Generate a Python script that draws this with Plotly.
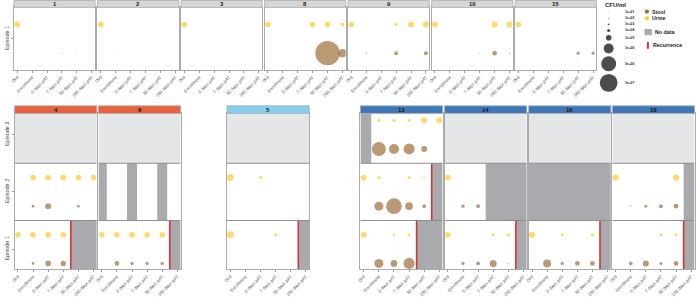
import plotly.graph_objects as go

W, H = 696, 297
FONT = "Liberation Sans, Arial, sans-serif"

# ---------------- data ----------------
TIMEPOINTS = ["Ord", "Enrollment", "0 days pAT", "7 days pAT", "30 days pAT", "180 days pAT"]
TOP_PATIENTS = ["1", "2", "3", "8", "9", "10", "15"]
BOTTOM_PATIENTS = ["4", "6", "5", "13", "14", "16", "18"]
STRIP_GROUP = {"4": "a", "6": "a", "5": "b", "13": "c", "14": "c", "16": "c", "18": "c"}

N = None
urine_cfu = {
    "1":  {1: [1e5, N, N, N, N, N]},
    "2":  {1: [1e5, N, N, N, N, N]},
    "3":  {1: [1e5, N, N, N, N, N]},
    "8":  {1: [1e5, N, N, 1e5, 1e5, 2e4]},
    "9":  {1: [1e5, N, N, 1e4, 1.3e5, 1.3e5]},
    "10": {1: [1e5, N, N, N, 1.3e5, 1.3e5]},
    "15": {1: [1e5, N, N, N, N, N]},
    "4":  {1: [1e5, 1e5, 1e5, 1e5, N, N], 2: [N, 1e5, 1e5, 1e5, 1e5, 1e5]},
    "6":  {1: [1e5, 1e5, 1e5, 1e5, 1e5, N]},
    "5":  {1: [2.4e5, N, N, 1e4, N, N], 2: [2.4e5, N, 1e4, N, N, N]},
    "13": {1: [1e5, N, 3e3, 1.2e4, N, N], 2: [1e5, 1.2e4, N, 1.2e4, 1.6e3, N],
           3: [N, 1.2e4, 1.2e4, 1.2e4, 1.3e5, 1.3e5]},
    "14": {1: [1e5, N, N, 1.2e4, 1.2e4, N], 2: [1e5, N, N, N, N, N]},
    "16": {1: [1.3e5, N, 1.2e4, N, 1.2e4, N]},
    "18": {1: [N, N, 10, 1.2e4, 1.2e4, N], 2: [1.5e5, N, N, N, 1.5e5, N]},
}
stool_cfu = {
    "1":  {1: [N, N, N, 100, 100, N]},
    "2":  {1: [N, 10, N, N, N, N]},
    "8":  {1: [N, N, N, N, 3.5e7, 5e5]},
    "9":  {1: [N, 200, N, 2.5e4, N, 2.5e4]},
    "10": {1: [N, N, N, 100, 5e4, 200]},
    "15": {1: [N, N, N, N, 1e4, 1e4]},
    "4":  {1: [N, 5e3, 1e5, 8e4, N, N], 2: [N, 5e3, 1.3e5, N, 5e3, N]},
    "6":  {1: [N, 5e4, 1.2e4, 1.2e4, 1.2e4, N]},
    "13": {1: [N, 6.5e5, 2e5, 1.5e6, N, N], 2: [N, 6.5e5, 6e6, 3.5e5, 1.9e4, N],
           3: [N, 3.8e6, 1e6, 1.5e6, 1.3e5, N]},
    "14": {1: [N, 1.2e4, 1.9e4, 2.4e5, 100, N], 2: [N, 1.2e4, 1.9e4, N, N, N]},
    "16": {1: [N, 4e5, 1.2e4, 5e4, 6e4, N]},
    "18": {1: [N, 1.9e4, 1.3e5, 8e3, 5e4, N], 2: [N, 300, 8e3, 2.5e4, 5e4, N]},
}
episodes_present = {"4": [1, 2], "6": [1, 2], "5": [1, 2], "13": [1, 2, 3],
                    "14": [1, 2], "16": [1, 2], "18": [1, 2]}
recurrence_after = {("4", 1): "7 days pAT", ("6", 1): "30 days pAT", ("5", 1): "30 days pAT",
                    ("13", 2): "30 days pAT", ("13", 1): "7 days pAT", ("14", 1): "30 days pAT",
                    ("16", 1): "30 days pAT", ("18", 1): "30 days pAT"}
missing_from = {("14", 2): "7 days pAT", ("18", 2): "180 days pAT"}
missing_before = {("13", 3): "Enrollment"}
missing_tiles = {("6", 2): ["Ord", "0 days pAT", "30 days pAT"]}
missing_episode = [("16", 2)]

legend_cfu = [1e1, 1e2, 1e3, 1e4, 1e5, 1e6, 5e6, 1e7]
legend_labels = ["1e+01", "1e+02", "1e+03", "1e+04", "1e+05", "1e+06", "5e+06", "1e+07"]

# ---------------- style ----------------
STOOL = "#9F6D3B"
URINE = "#FCCB2E"
NODATA = "#A8AAAD"
ABSENT = "#E5E6E8"
BORDER = "#ABABAB"
DIVIDER = "#8C8C8C"
RED = "#D93434"
STRIP_COLORS = {"a": "#E8613C", "b": "#86D0EE", "c": "#3D77B8"}
XR = [-0.22, 5.22]


def dot(v):
    return 10.0 * (v / 1e6) ** 0.25


top_x0 = [11 + i * 83.9 for i in range(7)]
top_w = 81.5
bot_x0 = [11.7, 95.9, 225.0, 359.0, 443.5, 528.0, 612.0]
bot_w = 82.5

panels = []
for i, p in enumerate(TOP_PATIENTS):
    panels.append(dict(pat=p, x0=top_x0[i], x1=top_x0[i] + top_w, y0=7.5, y1=71.0,
                       strip=(0.5, 7.5), row="top", first=(i == 0)))
for i, p in enumerate(BOTTOM_PATIENTS):
    panels.append(dict(pat=p, x0=bot_x0[i], x1=bot_x0[i] + bot_w, y0=115.0, y1=273.0,
                       strip=(107.3, 115.0), row="bot", first=(i == 0)))

fig = go.Figure()
layout = dict(width=W, height=H, margin=dict(l=0, r=0, t=0, b=0), autosize=False,
              plot_bgcolor="white", paper_bgcolor="white", showlegend=False,
              font=dict(family=FONT))
shapes = []
annotations = []

for n, pn in enumerate(panels, start=1):
    sfx = "" if n == 1 else str(n)
    xa, ya = "x" + sfx, "y" + sfx
    pat = pn["pat"]
    top = pn["row"] == "top"
    yr = [1.59, -0.6] if top else [5.207, -0.241]
    if top:
        ytv, ytt = [0.5], ["Episode 1"]
        ep_spans = {1: (-0.6, 1.59)}
    else:
        ytv, ytt = [0.5, 2.5, 4.5], ["Episode 3", "Episode 2", "Episode 1"]
        ep_spans = {3: (-0.241, 1.5), 2: (1.5, 3.5), 1: (3.5, 5.207)}
    layout["xaxis" + sfx] = dict(
        domain=[pn["x0"] / W, pn["x1"] / W], anchor=ya, range=XR,
        tickvals=list(range(6)), ticktext=TIMEPOINTS, tickangle=-45,
        tickfont=dict(size=4.5, color="#555555", family=FONT),
        ticks="outside", ticklen=2, tickwidth=0.6, tickcolor="#9A9A9A",
        showline=True, mirror=True, linecolor=BORDER, linewidth=1,
        showgrid=False, zeroline=False, fixedrange=True)
    layout["yaxis" + sfx] = dict(
        domain=[1 - pn["y1"] / H, 1 - pn["y0"] / H], anchor=xa, range=yr,
        tickvals=ytv, ticktext=ytt, tickangle=-90,
        showticklabels=pn["first"], ticks="outside" if pn["first"] else "",
        ticklen=2, tickwidth=0.6, tickcolor="#9A9A9A",
        tickfont=dict(size=5.5, color="#444444", family=FONT),
        showline=True, mirror=True, linecolor=BORDER, linewidth=1,
        showgrid=False, zeroline=False, fixedrange=True)

    # episode backgrounds / no-data areas
    present = [1] if top else episodes_present.get(pat, [])
    for ep, (ya0, ya1) in ep_spans.items():
        if ep not in present:
            shapes.append(dict(type="rect", xref=xa, yref=ya, x0=XR[0], x1=XR[1], y0=ya0, y1=ya1,
                               fillcolor=ABSENT, line=dict(width=0), layer="below"))
            continue
        key = (pat, ep)
        if key in missing_episode:
            shapes.append(dict(type="rect", xref=xa, yref=ya, x0=XR[0], x1=XR[1], y0=ya0, y1=ya1,
                               fillcolor=NODATA, line=dict(width=0), layer="below"))
        if key in missing_from:
            xs = TIMEPOINTS.index(missing_from[key]) - 0.5
            shapes.append(dict(type="rect", xref=xa, yref=ya, x0=xs, x1=XR[1], y0=ya0, y1=ya1,
                               fillcolor=NODATA, line=dict(width=0), layer="below"))
        if key in missing_before:
            xe = TIMEPOINTS.index(missing_before[key]) - 0.5
            shapes.append(dict(type="rect", xref=xa, yref=ya, x0=XR[0], x1=xe, y0=ya0, y1=ya1,
                               fillcolor=NODATA, line=dict(width=0), layer="below"))
        if key in missing_tiles:
            for lab in missing_tiles[key]:
                c = TIMEPOINTS.index(lab)
                shapes.append(dict(type="rect", xref=xa, yref=ya, x0=max(c - 0.33, XR[0]), x1=c + 0.33,
                                   y0=ya0, y1=ya1, fillcolor=NODATA, line=dict(width=0), layer="below"))
        if key in recurrence_after:
            xs = TIMEPOINTS.index(recurrence_after[key]) + 0.5
            shapes.append(dict(type="rect", xref=xa, yref=ya, x0=xs, x1=XR[1], y0=ya0, y1=ya1,
                               fillcolor=NODATA, line=dict(width=0), layer="below"))
            shapes.append(dict(type="line", xref=xa, yref=ya, x0=xs, x1=xs, y0=ya0, y1=ya1,
                               line=dict(color=RED, width=1.6), layer="below"))
    if not top:
        for yv in (1.5, 3.5):
            shapes.append(dict(type="line", xref=xa, yref=ya, x0=XR[0], x1=XR[1], y0=yv, y1=yv,
                               line=dict(color=DIVIDER, width=1), layer="below"))

    # points
    for kind, table, col in (("Stool", stool_cfu, STOOL), ("Urine", urine_cfu, URINE)):
        xs, ys, ss = [], [], []
        for ep, vals in table.get(pat, {}).items():
            base = 0 if top else (3 - ep) * 2
            yv = base + (1 if kind == "Stool" else 0)
            for i, v in enumerate(vals):
                if v is None:
                    continue
                xs.append(i)
                ys.append(yv)
                ss.append(dot(v))
        if xs:
            fig.add_trace(go.Scatter(x=xs, y=ys, mode="markers", xaxis=xa, yaxis=ya,
                                     marker=dict(size=ss, sizemode="diameter", color=col,
                                                 line=dict(width=0)),
                                     hoverinfo="skip", name=kind))

    # strip
    sy0, sy1 = pn["strip"]
    fill = "#D6D6D6" if top else STRIP_COLORS[STRIP_GROUP[pat]]
    shapes.append(dict(type="rect", xref="paper", yref="paper",
                       x0=pn["x0"] / W, x1=pn["x1"] / W, y0=1 - sy1 / H, y1=1 - sy0 / H,
                       fillcolor=fill, line=dict(color=BORDER, width=0.8)))
    annotations.append(dict(xref="paper", yref="paper", x=(pn["x0"] + pn["x1"]) / 2 / W,
                            y=1 - (sy0 + sy1) / 2 / H, text="<b>%s</b>" % pat, showarrow=False,
                            font=dict(size=6, color="#1A1A1A", family=FONT),
                            xanchor="center", yanchor="middle"))

# ---------------- legend ----------------
L = len(panels) + 1
lsfx = str(L)
layout["xaxis" + lsfx] = dict(domain=[596 / W, 1], anchor="y" + lsfx, range=[596, 696],
                              visible=False, fixedrange=True)
layout["yaxis" + lsfx] = dict(domain=[1 - 100 / H, 1], anchor="x" + lsfx, range=[100, 0],
                              visible=False, fixedrange=True)
lx, ly = "x" + lsfx, "y" + lsfx

ds = [dot(v) for v in legend_cfu]
hs = [max(d + 3.0, 6.2) for d in ds]
cy = [12.3]
for i in range(1, len(ds)):
    cy.append(cy[-1] + (hs[i - 1] + hs[i]) / 2)
fig.add_trace(go.Scatter(x=[608.3] * len(ds), y=cy, mode="markers", xaxis=lx, yaxis=ly,
                         marker=dict(size=ds, sizemode="diameter", color="black", line=dict(width=0)),
                         hoverinfo="skip", cliponaxis=False))
for lab, yv in zip(legend_labels, cy):
    annotations.append(dict(xref=lx, yref=ly, x=622.7, y=yv, text="<b>%s</b>" % lab, showarrow=False,
                            xanchor="left", yanchor="middle",
                            font=dict(size=3.3, color="#222222", family=FONT)))
annotations.append(dict(xref=lx, yref=ly, x=602.5, y=5, text="<b>CFU/ml</b>", showarrow=False,
                        xanchor="left", yanchor="middle", font=dict(size=6, color="#222222", family=FONT)))

fig.add_trace(go.Scatter(x=[646.7, 646.7], y=[11.7, 18.7], mode="markers", xaxis=lx, yaxis=ly,
                         marker=dict(size=4.3, color=[STOOL, URINE], line=dict(width=0)),
                         hoverinfo="skip", cliponaxis=False))
for txt, yv in (("Stool", 11.7), ("Urine", 18.7)):
    annotations.append(dict(xref=lx, yref=ly, x=650.2, y=yv, text="<b>%s</b>" % txt, showarrow=False,
                            xanchor="left", yanchor="middle", font=dict(size=5.3, color="#222222", family=FONT)))
shapes.append(dict(type="rect", xref=lx, yref=ly, x0=644.3, x1=651.7, y0=29.3, y1=35.7,
                   fillcolor=NODATA, line=dict(width=0)))
annotations.append(dict(xref=lx, yref=ly, x=653.3, y=32.5, text="<b>No data</b>", showarrow=False,
                        xanchor="left", yanchor="middle", font=dict(size=5.3, color="#222222", family=FONT)))
shapes.append(dict(type="rect", xref=lx, yref=ly, x0=646.7, x1=648.7, y0=42.7, y1=49.3,
                   fillcolor=RED, line=dict(width=0)))
annotations.append(dict(xref=lx, yref=ly, x=650.7, y=46, text="<b>Recurrence</b>", showarrow=False,
                        xanchor="left", yanchor="middle", font=dict(size=5.3, color="#222222", family=FONT)))

layout["shapes"] = shapes
layout["annotations"] = annotations
fig.update_layout(**layout)
fig.write_html("out.html", config={"displayModeBar": False},
               post_script="document.body.style.margin='0';document.body.style.padding='0';"
                           "document.body.style.overflow='hidden';")
